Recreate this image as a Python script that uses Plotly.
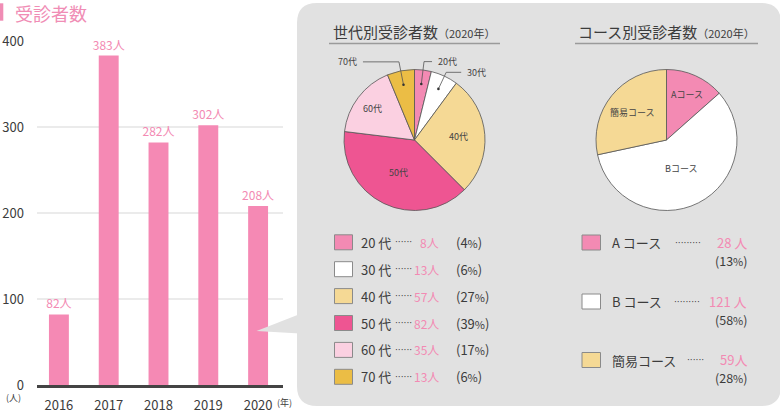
import math
import plotly.graph_objects as go

# ---------------- data ----------------
years = ["2016", "2017", "2018", "2019", "2020"]
patients = [82, 383, 282, 302, 208]

gen_labels = ["20代", "30代", "40代", "50代", "60代", "70代"]
gen_legend = ["20 代", "30 代", "40 代", "50 代", "60 代", "70 代"]
gen_counts = [8, 13, 57, 82, 35, 13]
gen_pcts = [4, 6, 27, 39, 17, 6]

course_labels = ["Aコース", "Bコース", "簡易コース"]
course_legend = ["A コース", "B コース", "簡易コース"]
course_counts = [28, 121, 59]
course_count_text = ["28 人", "121 人", "59人"]
course_pcts = [13, 58, 28]

y_ticks = [0, 100, 200, 300, 400]

# ---------------- styles ----------------
W, H = 780, 415
FONT = "Noto Sans CJK JP"
DOTFONT = "DejaVu Sans"
PINK = "#f38ab3"
BAR = "#f589b4"
DARK = "#3c3c3c"
PANEL = "#e1e1e1"
gen_colors = ["#f38ab3", "#ffffff", "#f5d995", "#ee5592", "#fbd0e1", "#ebbd45"]
course_colors = ["#f38ab3", "#ffffff", "#f5d995"]


def px(x):
    return x / W


def py(y):
    return 1 - y / H


fig = go.Figure()

# bar chart
fig.add_trace(go.Bar(
    x=years, y=patients, width=0.4,
    marker=dict(color=BAR, line=dict(width=0)),
    text=[f"{v}人" for v in patients], textposition="outside", constraintext="none",
    textfont=dict(color=PINK, size=12, family=FONT),
    cliponaxis=False, showlegend=False, hoverinfo="skip",
))

# pies
P1 = dict(cx=414.5, cy=140, r=70.5)
P2 = dict(cx=666.5, cy=140, r=70.5)


def pie_domain(p):
    return dict(x=[px(p["cx"] - p["r"]), px(p["cx"] + p["r"])],
                y=[py(p["cy"] + p["r"]), py(p["cy"] - p["r"])])


fig.add_trace(go.Pie(
    values=gen_counts, labels=gen_labels, sort=False, direction="clockwise",
    rotation=0, textinfo="none", hoverinfo="label+value",
    marker=dict(colors=gen_colors, line=dict(color="#555555", width=0.8)),
    domain=pie_domain(P1), showlegend=False,
))
fig.add_trace(go.Pie(
    values=course_counts, labels=course_labels, sort=False, direction="clockwise",
    rotation=0, textinfo="none", hoverinfo="label+value",
    marker=dict(colors=course_colors, line=dict(color="#555555", width=0.8)),
    domain=pie_domain(P2), showlegend=False,
))

shapes = []
annotations = []

# grey panel with rounded corners
x0, x1, y0, y1, rr = 297, 781, 3, 406, 20
panel = (f"M {px(x0+rr)},{py(y0)} L {px(x1-rr)},{py(y0)} "
         f"Q {px(x1)},{py(y0)} {px(x1)},{py(y0+rr)} L {px(x1)},{py(y1-rr)} "
         f"Q {px(x1)},{py(y1)} {px(x1-rr)},{py(y1)} L {px(x0+rr)},{py(y1)} "
         f"Q {px(x0)},{py(y1)} {px(x0)},{py(y1-rr)} L {px(x0)},{py(y0+rr)} "
         f"Q {px(x0)},{py(y0)} {px(x0+rr)},{py(y0)} Z")
shapes.append(dict(type="path", path=panel, xref="paper", yref="paper",
                   fillcolor=PANEL, line=dict(width=0), layer="below"))
# callout triangle pointing at 2020 bar
tri = f"M {px(300)},{py(314)} L {px(256.5)},{py(331)} L {px(300)},{py(333.5)} Z"
shapes.append(dict(type="path", path=tri, xref="paper", yref="paper",
                   fillcolor=PANEL, line=dict(width=0), layer="above"))

# main title with pink bar
shapes.append(dict(type="rect", xref="paper", yref="paper", x0=px(0), x1=px(3.3),
                   y0=py(20.7), y1=py(3.3), fillcolor="#f08db5", line=dict(width=0)))
annotations.append(dict(text="受診者数", x=px(13), y=py(12.5), xanchor="left",
                        font=dict(size=18, color="#f08db5", family=FONT)))
# axis unit labels
annotations.append(dict(text="(人)", x=px(14), y=py(397), xanchor="center",
                        font=dict(size=9, color=DARK, family=FONT)))
annotations.append(dict(text="(年)", x=px(284), y=py(402), xanchor="center",
                        font=dict(size=9, color=DARK, family=FONT)))

# pie titles with underline
for title, cx, ux0, ux1 in [("世代別受診者数", 414, 329, 500), ("コース別受診者数", 666, 575, 758)]:
    annotations.append(dict(
        text=f"{title}<span style='font-size:11px'>（2020年）</span>",
        x=px(cx), y=py(31.5), xanchor="center",
        font=dict(size=15, color=DARK, family=FONT)))
    shapes.append(dict(type="line", xref="paper", yref="paper", x0=px(ux0), x1=px(ux1),
                       y0=py(43.5), y1=py(43.5), line=dict(color="#9a9a9a", width=1.5)))


def slice_mid_angles(vals):
    tot = sum(vals)
    out, cum = [], 0
    for v in vals:
        out.append(2 * math.pi * (cum + v / 2) / tot)
        cum += v
    return out


def polar(p, ang, f):
    return p["cx"] + p["r"] * f * math.sin(ang), p["cy"] - p["r"] * f * math.cos(ang)


# generation pie labels
gen_ang = slice_mid_angles(gen_counts)
inside_frac = {2: 0.63, 3: 0.52, 4: 0.74}
leader_len = {0: 8, 1: 15, 5: 36}
elbow_frac = {0: 1.12, 1: 1.06, 5: 1.13}
for i, lab in enumerate(gen_labels):
    a = gen_ang[i]
    if i in inside_frac:
        x, y = polar(P1, a, inside_frac[i])
        annotations.append(dict(text=lab, x=px(x), y=py(y), xanchor="center",
                                font=dict(size=9, color="#444444", family=FONT)))
    else:
        dx, dy = polar(P1, a, 0.8)
        ex, ey = polar(P1, a, elbow_frac[i])
        sgn = 1 if math.sin(a) >= 0 else -1
        hx = ex + sgn * leader_len[i]
        shapes.append(dict(type="path", xref="paper", yref="paper",
                           path=f"M {px(dx)},{py(dy)} L {px(ex)},{py(ey)} L {px(hx)},{py(ey)}",
                           line=dict(color="#555555", width=0.8)))
        shapes.append(dict(type="circle", xref="paper", yref="paper",
                           x0=px(dx - 1.3), x1=px(dx + 1.3), y0=py(dy + 1.3), y1=py(dy - 1.3),
                           fillcolor="#333333", line=dict(width=0)))
        annotations.append(dict(text=lab, x=px(hx + sgn * 4), y=py(ey),
                                xanchor="left" if sgn > 0 else "right",
                                font=dict(size=9, color="#444444", family=FONT)))

# course pie labels
course_ang = slice_mid_angles(course_counts)
course_frac = [0.7, 0.46, 0.62]
for i, lab in enumerate(course_labels):
    x, y = polar(P2, course_ang[i], course_frac[i])
    annotations.append(dict(text=lab, x=px(x), y=py(y), xanchor="center",
                            font=dict(size=9, color="#444444", family=FONT)))

# generation legend
for i, lab in enumerate(gen_legend):
    yc = 242.3 + i * 26.9
    shapes.append(dict(type="rect", xref="paper", yref="paper",
                       x0=px(334.5), x1=px(352.5), y0=py(yc + 7.5), y1=py(yc - 7.5),
                       fillcolor=gen_colors[i], line=dict(color="#8a8a8a", width=1)))
    annotations += [
        dict(text=lab, x=px(359), y=py(yc), xanchor="left",
             font=dict(size=13, color=DARK, family=FONT)),
        dict(text="······", x=px(394), y=py(yc), xanchor="left", borderpad=0,
             font=dict(size=9, color=DARK, family=DOTFONT)),
        dict(text=f"{gen_counts[i]}人", x=px(440), y=py(yc), xanchor="right", borderpad=0,
             font=dict(size=12, color=PINK, family=FONT)),
        dict(text=f"({gen_pcts[i]}<span style='font-size:11px'>%</span>)", x=px(454), y=py(yc),
             xanchor="left", font=dict(size=13, color=DARK, family=FONT)),
    ]

# course legend
course_rows = [242.5, 301.5, 360]
course_dots = ["·········", "·········", "······"]
course_dot_x = [673, 672, 685]
for i, lab in enumerate(course_legend):
    yc = course_rows[i]
    shapes.append(dict(type="rect", xref="paper", yref="paper",
                       x0=px(582), x1=px(600.5), y0=py(yc + 7.5), y1=py(yc - 7.5),
                       fillcolor=course_colors[i], line=dict(color="#8a8a8a", width=1)))
    annotations += [
        dict(text=lab, x=px(610), y=py(yc), xanchor="left",
             font=dict(size=13, color=DARK, family=FONT)),
        dict(text=course_dots[i], x=px(course_dot_x[i]), y=py(yc), xanchor="left",
             font=dict(size=9, color=DARK, family=DOTFONT)),
        dict(text=course_count_text[i], x=px(748), y=py(yc - 0.5), xanchor="right",
             borderpad=0, font=dict(size=13, color=PINK, family=FONT)),
        dict(text=f"({course_pcts[i]}<span style='font-size:11px'>%</span>)", x=px(748),
             y=py(yc + 17.5), xanchor="right", borderpad=0,
             font=dict(size=12.5, color=DARK, family=FONT)),
    ]

for a in annotations:
    a.setdefault("xref", "paper")
    a.setdefault("yref", "paper")
    a.setdefault("showarrow", False)
    a.setdefault("yanchor", "middle")

fig.update_layout(
    width=W, height=H, autosize=False,
    margin=dict(l=0, r=0, t=0, b=0, pad=0, autoexpand=False),
    paper_bgcolor="white", plot_bgcolor="white",
    font=dict(family=FONT, color=DARK),
    shapes=shapes, annotations=annotations, bargap=0.2,
    xaxis=dict(domain=[px(37), px(283)], type="category", range=[-0.44, 4.5],
               showline=True, linecolor="#444444", linewidth=3, ticks="",
               tickfont=dict(size=13, color=DARK, family=FONT), showgrid=False,
               ticklabelstandoff=6, fixedrange=True, automargin=False),
    yaxis=dict(domain=[py(385), py(41)], range=[0, 400], tickvals=y_ticks,
               gridcolor="#ebebeb", gridwidth=1.5, zeroline=False, ticks="",
               tickfont=dict(size=13, color=DARK, family=FONT), ticklabelstandoff=12,
               fixedrange=True, automargin=False),
)

fig.write_html(
    "out.html",
    config={"displayModeBar": False},
    post_script="document.body.style.margin='0';document.body.style.overflow='hidden';",
)
